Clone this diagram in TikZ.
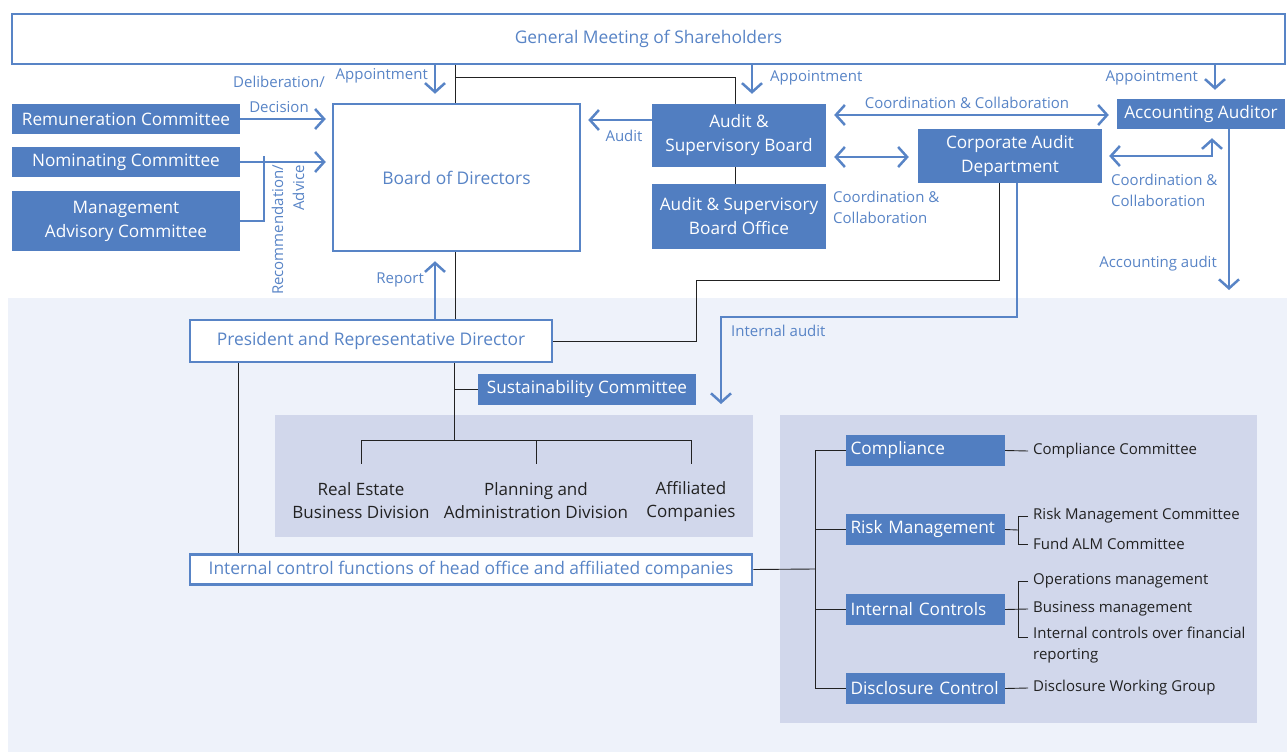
\documentclass[tikz,border=0pt]{standalone}
\usepackage{fontspec}
\setmainfont{Open Sans}
\usepackage{tikz}
\usetikzlibrary{positioning,arrows.meta}

\definecolor{corpblue}{HTML}{517EC1}
\definecolor{lineblue}{HTML}{5884C6}
\definecolor{paleband}{HTML}{EEF2FA}
\definecolor{greyband}{HTML}{D1D7EB}
\definecolor{inkgray}{HTML}{222222}

\begin{document}
\begin{tikzpicture}[x=1pt, y=-1pt,
    fbox/.style={fill=corpblue, text=white, inner sep=0pt, align=center,
                 font=\fontsize{17.2}{24}\selectfont},
    obox/.style={draw=lineblue, line width=2.5pt, fill=white, text=lineblue,
                 inner sep=0pt, align=center, font=\fontsize{17.4}{24}\selectfont},
    tbox/.style={fbox, align=left, inner xsep=4.5pt, text width=150pt, minimum height=31pt},
    lbl/.style={text=lineblue, inner sep=0pt, font=\fontsize{15}{21}\selectfont},
    itm/.style={text=inkgray, inner sep=0pt, inner xsep=5pt, anchor=west,
                font=\fontsize{15}{21}\selectfont},
    dvn/.style={text=inkgray, align=center, font=\fontsize{17}{23}\selectfont},
    blk/.style={draw=inkgray, line width=0.9pt},
    arr/.style={lineblue, line width=2.5pt, -{Straight Barb[length=9pt,width=20pt]}},
    darr/.style={lineblue, line width=2.5pt,
                 {Straight Barb[length=9pt,width=20pt]}-{Straight Barb[length=9pt,width=20pt]}}
  ]
  \useasboundingbox (0,0) rectangle (1287,754);

  % background bands
  \fill[paleband] (8,298) rectangle (1287,752);
  \fill[greyband] (275,415) rectangle (753,537);
  \fill[greyband] (780,415) rectangle (1257,723);

  % top level
  \node[obox, minimum width=1273pt, minimum height=50pt] (gms) at (648.5,39)
    {General Meeting of Shareholders};

  \node[fbox, minimum width=228pt, minimum height=30pt] (rem) at (126,119) {Remuneration Committee};
  \node[fbox, minimum width=228pt, minimum height=30pt] (nom) at (126,162) {Nominating Committee};
  \node[fbox, minimum width=228pt, minimum height=60pt] (mac) at (126,221) {Management\\Advisory Committee};

  \node[obox, minimum width=247pt, minimum height=147pt] (bod) at (456.5,177.5) {Board of Directors};

  \node[fbox, minimum width=174pt, minimum height=63pt] (asb)  at (739,135.5) {Audit \&\\Supervisory Board};
  \node[fbox, minimum width=174pt, minimum height=65pt] (asbo) at (739,216.5) {Audit \& Supervisory\\Board Office};
  \node[fbox, minimum width=184pt, minimum height=54pt] (cad)  at (1010,156) {Corporate Audit\\Department};
  \node[fbox, minimum width=168pt, minimum height=30pt] (acc)  at (1201,114) {Accounting Auditor};

  % executive side
  \node[obox, minimum width=362pt, minimum height=42pt] (prd) at (371,341) {President and Representative Director};
  \node[fbox, minimum width=218pt, minimum height=31pt] (sus) at (587,389.5) {Sustainability Committee};

  \node[dvn] (div1) at (361,501) {Real Estate\\Business Division};
  \node[dvn] (div2) at (536,501) {Planning and\\Administration Division};
  \node[dvn] (div3) at (691,502) {Affiliated\\Companies};

  \node[obox, minimum width=562pt, minimum height=30pt] (icf) at (471,569.5)
    {Internal control functions of head office and affiliated companies};

  % internal control functions
  \node[tbox] (cmp)  at (925.5,450.5) {Compliance};
  \node[tbox] (rsk)  at (925.5,529.5) {Risk Management};
  \node[tbox] (ictl) at (925.5,609.5) {Internal Controls};
  \node[tbox] (dsc)  at (925.5,688.5) {Disclosure Control};

  \node[itm] (cc)   at (1028,451) {Compliance Committee};
  \node[itm] (rmc)  at (1028,516) {Risk Management Committee};
  \node[itm] (falm) at (1028,544) {Fund ALM Committee};
  \node[itm] (opm)  at (1028,581) {Operations management};
  \node[itm] (bsm)  at (1028,609) {Business management};
  \node[itm, anchor=north west, align=left] (icfr) at (1028,627)
    {Internal controls over financial\\reporting};
  \node[itm] (dwg)  at (1028,688) {Disclosure Working Group};

  % reporting lines
  \draw[blk] (gms.south -| 455,0) -- (bod.north -| 455,0);
  \draw[blk] (455,77) -| (asb.north -| 735,0);
  \draw[blk] (asb.south -| 735,0) -- (asbo.north -| 735,0);
  \draw[blk] (bod.south -| 455,0) -- (prd.north -| 455,0);
  \draw[blk] (cad.south -| 999,0) |- (696,280) |- (prd.east);
  \coordinate (dbus) at (454,440);
  \draw[blk] (prd.south -| dbus) -- (dbus);
  \draw[blk] (sus.west) -- (sus.west -| dbus);
  \draw[blk] (div1.north |- dbus) -- (div3.north |- dbus);
  \foreach \d in {div1,div2,div3}
    \draw[blk] (\d.north |- dbus) -- ++(0,24);
  \draw[blk] (prd.south -| 238,0) -- (icf.north -| 238,0);

  \coordinate (ibus) at (815,569);
  \draw[blk] (icf.east) -- (ibus);
  \draw[blk] (cmp.west -| ibus) -- (dsc.west -| ibus);
  \foreach \b in {cmp,rsk,ictl,dsc}
    \draw[blk] (\b.west -| ibus) -- (\b.west);
  \draw[blk] (cmp.east) -- (cc.west);
  \draw[blk] (rmc.west) -| (1018,530) |- (falm.west);
  \draw[blk] (rsk.east) -- (1018,530);
  \draw[blk] (opm.west) -| (1018,609) |- ([yshift=-10.5pt]icfr.north west);
  \draw[blk] (ictl.east) -- (bsm.west);
  \draw[blk] (dsc.east) -- (dwg.west);

  % appointments and reports
  \draw[arr] (gms.south -| 435,0) -- ([xshift=-21.5pt,yshift=9pt]bod.north);
  \node[lbl, anchor=east] at (428,76) {Appointment};
  \draw[arr] (gms.south -| 752,0) -- ([xshift=13pt,yshift=10pt]asb.north);
  \node[lbl, anchor=west] at (770,78) {Appointment};
  \draw[arr] (gms.south -| 1215,0) -- ([xshift=14pt,yshift=9pt]acc.north);
  \node[lbl, anchor=east] at (1198,78) {Appointment};

  \draw[arr] (rem.east) -- ([xshift=-6pt]bod.west |- rem.east);
  \node[lbl, align=center] at (279,94.5) {Deliberation/\\[4pt]Decision};
  \draw[arr] (nom.east) -- ([xshift=-6pt]bod.west |- nom.east);
  \draw[lineblue, line width=2.5pt] (mac.east) -| (264,156);
  \node[lbl, rotate=90, align=right] at (288,230) {Recommendation/\\Advice};

  \draw[arr] (asb.west |- 0,120) -- ([xshift=7pt]bod.east |- 0,120);
  \node[lbl] at (624,136) {Audit};
  \draw[arr] (prd.north -| 435,0) -- ([yshift=-9pt]bod.south -| 435,0);
  \node[lbl, anchor=east] at (424,280) {Report};

  % coordination
  \draw[darr] ([xshift=8pt]asb.east |- 0,115) -- ([xshift=-8pt]acc.west |- 0,115);
  \node[lbl] at (967,103) {Coordination \& Collaboration};
  \draw[darr] ([xshift=8pt]asb.east |- 0,157) -- ([xshift=-9pt]cad.west |- 0,157);
  \node[lbl, anchor=west, align=left] at (833,207) {Coordination \&\\Collaboration};
  \draw[darr] ([xshift=7pt]cad.east) -| ([xshift=11pt,yshift=-9pt]acc.south);
  \node[lbl, anchor=west, align=left] at (1111,190) {Coordination \&\\Collaboration};

  % audits
  \coordinate (aaend) at (1229,290);
  \draw[arr] (acc.south -| aaend) -- (aaend);
  \node[lbl, anchor=east] at (1217,264) {Accounting audit};
  \coordinate (iaend) at (721,404);
  \draw[arr] (cad.south -| 1017,0) |- (iaend |- 0,317) -- (iaend);
  \node[lbl, anchor=west] at (731,331) {Internal audit};
\end{tikzpicture}
\end{document}
